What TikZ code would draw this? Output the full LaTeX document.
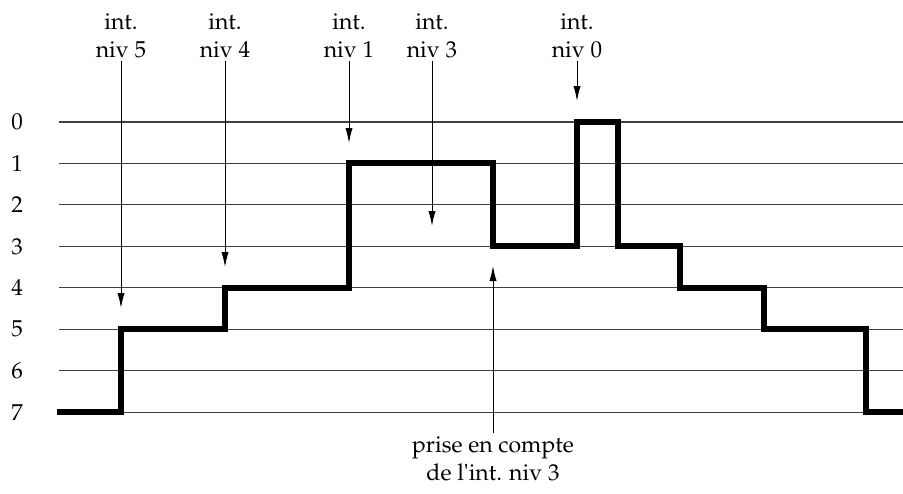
\documentclass[tikz,border=0pt]{standalone}
\usepackage[T1]{fontenc}
\usepackage{mathpazo}
\usepackage{textcomp}
\usetikzlibrary{arrows.meta}
\begin{document}
\begin{tikzpicture}[x=0.5pt,y=-0.5pt,
  grid/.style={line width=0.55pt,black!75},
  level/.style={line width=3pt,black,line join=miter},
  lab/.style={align=center,anchor=south,inner sep=1.5pt,font=\fontsize{11.5}{14}\selectfont},
  num/.style={inner sep=0pt,font=\fontsize{11.5}{14}\selectfont},
  arr/.style={line width=0.5pt,-{Latex[length=7.5pt,width=3.6pt]}}]
\useasboundingbox (0,0) rectangle (903,493);
\foreach \l in {0,...,7}{
  \draw[grid] (59,{122+41.45*\l}) -- (903,{122+41.45*\l});
  \node[num] (n\l) at (17,{122+41.45*\l}) {\l};
}
\draw[level] (57,{122+41.45*7}) -| (121,{122+41.45*5}) -| (225,{122+41.45*4})
  -| (349,{122+41.45*1}) -| (493,{122+41.45*3}) -| (577,{122+41.45*0})
  -| (618,{122+41.45*3}) -| (680,{122+41.45*4}) -| (764,{122+41.45*5})
  -| (866,{122+41.45*7}) -- (903,{122+41.45*7});
\node[lab] (l5) at (121,61) {int.\\niv 5};
\node[lab] (l4) at (225,61) {int.\\niv 4};
\node[lab] (l1) at (349,61) {int.\\niv 1};
\node[lab] (l3) at (432,61) {int.\\niv 3};
\node[lab] (l0) at (577,61) {int.\\niv 0};
\coordinate (t5) at (121,308);
\coordinate (t4) at (225,267);
\coordinate (t1) at (349,143);
\coordinate (t3) at (432,226);
\coordinate (t0) at (577,101);
\foreach \i in {5,4,1,3,0}{\draw[arr] (l\i.south) -- (t\i);}
\node[lab,anchor=north] (pc) at (493,433) {prise en compte\\de l\textquotesingle int. niv 3};
\coordinate (tp) at (493,266);
\draw[arr] (pc.north) -- (tp);
\end{tikzpicture}
\end{document}
